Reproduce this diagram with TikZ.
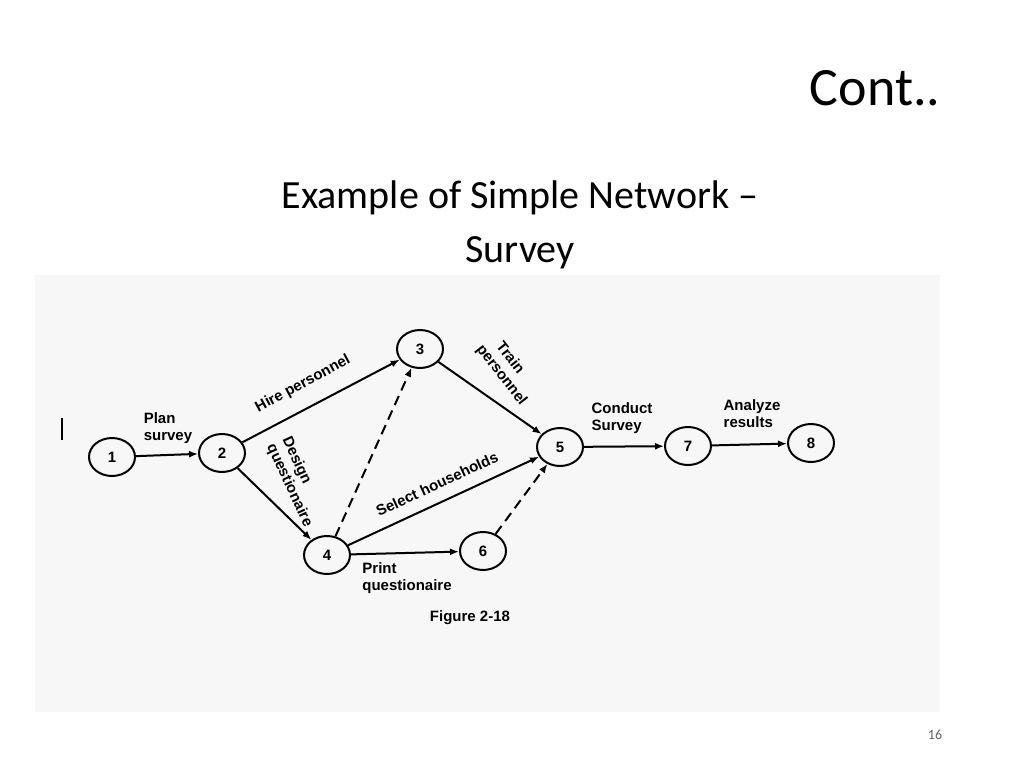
\documentclass[tikz,border=0pt]{standalone}
\usepackage{fontspec}
\setmainfont{Carlito}
\newfontfamily\dfont{Liberation Sans}
\usetikzlibrary{shapes.geometric,arrows.meta}
\begin{document}
\begin{tikzpicture}[x=1pt,y=-1pt,
 ev/.style={ellipse,draw,line width=2pt,minimum width=46pt,minimum height=38pt,inner sep=0pt,font=\dfont\bfseries\fontsize{15}{15}\selectfont},
 act/.style={line width=2pt,-{Latex[length=9pt,width=7pt]}},
 dum/.style={act,dash pattern=on 10pt off 6pt},
 lab/.style={font=\dfont\bfseries\fontsize{15}{17}\selectfont,align=left,inner sep=0pt}]
\useasboundingbox (0,0) rectangle (1024,768);
\fill[white] (0,0) rectangle (1024,768);
\fill[black!3] (35,275) rectangle (940,712);
\node[anchor=east,font=\fontsize{54}{54}\selectfont] (t) at (944,88) {Cont..};
\node[align=center,font=\fontsize{40}{54}\selectfont] (h) at (520,225) {Example of Simple Network --\\Survey};
\node[font=\fontsize{14}{14}\selectfont,text=black!60] (pn) at (935,735) {16};
\node[ev] (n1) at (112,457) {1};
\node[ev] (n2) at (222,453) {2};
\node[ev] (n3) at (420,349) {3};
\node[ev] (n4) at (327,555) {4};
\node[ev] (n5) at (560,447) {5};
\node[ev] (n6) at (483,551) {6};
\node[ev] (n7) at (688,446) {7};
\node[ev] (n8) at (811,443) {8};
\draw[act] (n1) -- (n2);
\draw[act] (n2) -- (n3);
\draw[act] (n2) -- (n4);
\draw[act] (n3) -- (n5);
\draw[act] (n4) -- (n5);
\draw[act] (n4) -- (n6);
\draw[act] (n5) -- (n7);
\draw[act] (n7) -- (n8);
\draw[dum] (n4) -- (n3);
\draw[dum] (n6) -- (n5);
\draw[line width=2.5pt] (62,418) -- (62,440);
\node[lab] (l1) at (168,428) {Plan\\survey};
\node[lab,rotate=28] (l2) at (303,384) {Hire personnel};
\node[lab,rotate=-65] (l3) at (297,482) {Design\\questionaire};
\node[lab,rotate=-52] (l4) at (508,370) {\hspace*{10pt}Train\\personnel};
\node[lab,rotate=25] (l5) at (437,484) {Select households};
\node[lab] (l6) at (407,578) {Print\\questionaire};
\node[lab] (l7) at (622,418) {Conduct\\Survey};
\node[lab] (l8) at (752,414) {Analyze\\results};
\node[lab] (fig) at (470,618) {Figure 2-18};
\end{tikzpicture}
\end{document}
